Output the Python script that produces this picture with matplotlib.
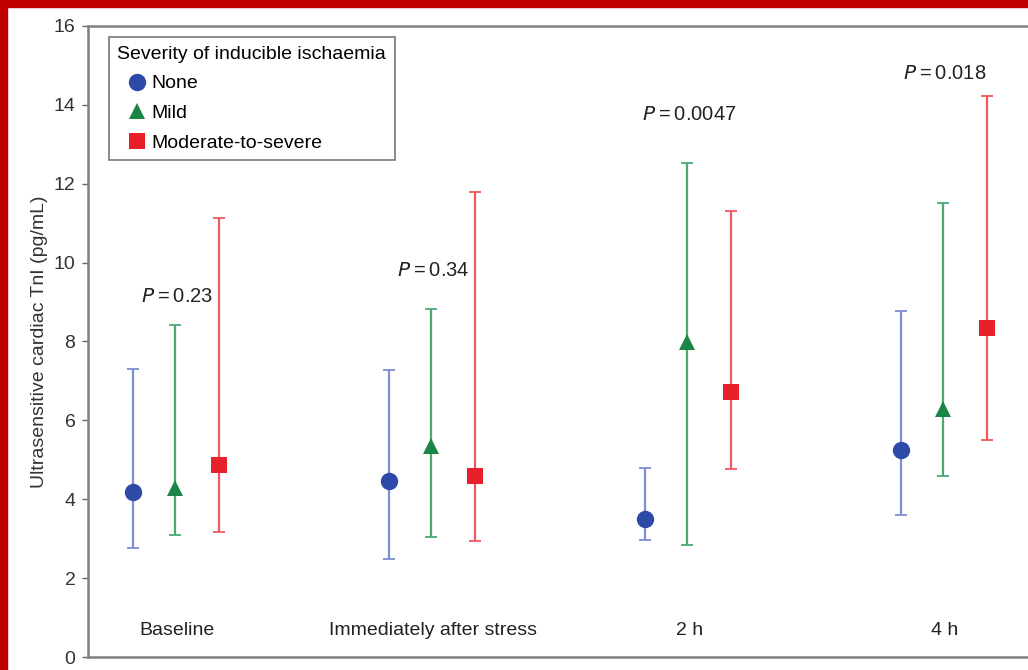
import numpy as np
import matplotlib
matplotlib.use('Agg')
import matplotlib.pyplot as plt

plt.rcParams['font.family'] = ['Liberation Sans', 'DejaVu Sans']

# data
timepoints = ['Baseline', 'Immediately after stress', '2 h', '4 h']
p_values = ['0.23', '0.34', '0.0047', '0.018']
p_height = [9.15, 9.8, 13.75, 14.8]

none_val = [4.18, 4.46, 3.50, 5.25]
none_lo = [2.76, 2.48, 2.97, 3.60]
none_hi = [7.30, 7.28, 4.79, 8.77]

mild_val = [4.28, 5.35, 7.99, 6.29]
mild_lo = [3.09, 3.04, 2.84, 4.59]
mild_hi = [8.42, 8.82, 12.53, 11.51]

mod_val = [4.87, 4.59, 6.72, 8.34]
mod_lo = [3.17, 2.94, 4.77, 5.50]
mod_hi = [11.13, 11.79, 11.31, 14.22]

fig = plt.figure(figsize=(10.28, 6.70), dpi=100)
# red frame on top and left
fig.patches.append(plt.Rectangle((0, 0.9895), 1, 0.0105, transform=fig.transFigure,
                                 color='#C00000', zorder=0))
fig.patches.append(plt.Rectangle((0, 0), 0.0068, 1, transform=fig.transFigure,
                                 color='#C00000', zorder=0))
ax = fig.add_axes([0.0856, 0.0194, 0.9144, 0.9418])

x = np.arange(len(timepoints))
series = [
    ('None', none_val, none_lo, none_hi, -0.172, 'o', 12.5, '#2E4AA8', '#7F8FD6'),
    ('Mild', mild_val, mild_lo, mild_hi, -0.008, '^', 11.5, '#1A8646', '#4FA872'),
    ('Moderate-to-severe', mod_val, mod_lo, mod_hi, 0.164, 's', 11.5, '#E8202A', '#F0585C'),
]
for name, val, lo, hi, off, mk, ms, col, ecol in series:
    val = np.array(val)
    yerr = [val - np.array(lo), np.array(hi) - val]
    ax.errorbar(x + off, val, yerr=yerr, fmt='none', ecolor=ecol, elinewidth=1.6,
                capsize=4, capthick=1.3, zorder=2)
    ax.plot(x + off, val, linestyle='none', marker=mk, markersize=ms,
            color=col, markeredgewidth=0, label=name, zorder=3)

for i, p in enumerate(p_values):
    ax.text(x[i], p_height[i], r'$\it{P}$' + '\u2009=\u2009' + p, ha='center', va='center',
            fontsize=14.5, color='#222222')
    ax.text(x[i], 0.68, timepoints[i], ha='center', va='center', fontsize=14,
            color='#222222')

ax.set_xlim(-0.348, 3.324)
ax.set_ylim(0, 16)
ax.set_yticks(np.arange(0, 17, 2))
ax.set_xticks([])
ax.tick_params(axis='y', labelsize=14, colors='#666666', labelcolor='#333333',
               length=4, width=1, pad=5)
ax.set_ylabel('Ultrasensitive cardiac TnI (pg/mL)', fontsize=14, color='#333333',
              labelpad=4)
for s in ['left', 'top', 'bottom']:
    ax.spines[s].set_color('#808080')
    ax.spines[s].set_linewidth(1.8)
ax.spines['right'].set_visible(False)

leg = ax.legend(title='Severity of inducible ischaemia', loc='upper left',
                bbox_to_anchor=(0.0115, 0.998), fontsize=14, title_fontsize=14,
                frameon=True, fancybox=False, edgecolor='#555555',
                handletextpad=-0.25, handlelength=2.0, labelspacing=0.62,
                borderpad=0.45, markerscale=1.0)
leg._legend_box.align = 'left'
leg.get_frame().set_linewidth(1.2)

fig.savefig('out.png', dpi=100)
